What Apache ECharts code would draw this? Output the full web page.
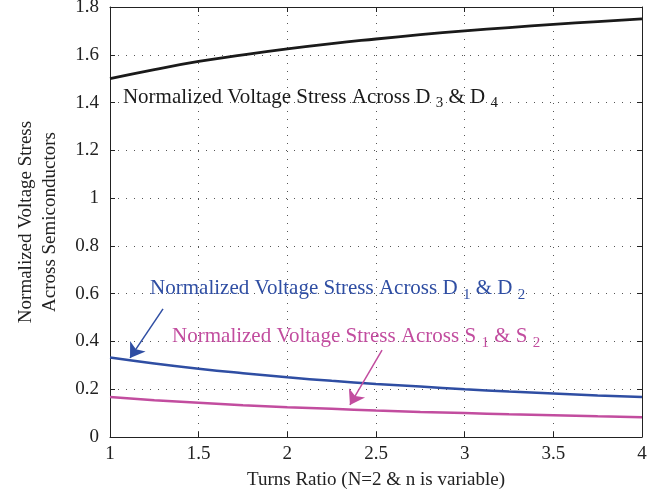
<!DOCTYPE html>
<html><head><meta charset="utf-8">
<script src="https://cdn.jsdelivr.net/npm/echarts@6/dist/echarts.min.js"></script>
<style>html,body{margin:0;padding:0;background:#fff}#c{width:664px;height:497px}</style>
</head><body><div id="c"></div>
<script>
var turns = [1, 1.25, 1.5, 1.75, 2, 2.25, 2.5, 2.75, 3, 3.25, 3.5, 3.75, 4];
var stressD34 = [1.5, 1.538, 1.572, 1.6, 1.625, 1.647, 1.666, 1.684, 1.7, 1.714, 1.727, 1.739, 1.75];
var stressD12 = [0.333, 0.308, 0.286, 0.267, 0.25, 0.235, 0.222, 0.211, 0.2, 0.19, 0.182, 0.174, 0.167];
var stressS12 = [0.167, 0.154, 0.143, 0.133, 0.125, 0.118, 0.111, 0.105, 0.1, 0.095, 0.091, 0.087, 0.083];
var xTicks = [1, 1.5, 2, 2.5, 3, 3.5, 4];
var yTicks = [0, 0.2, 0.4, 0.6, 0.8, 1, 1.2, 1.4, 1.6, 1.8];
var labelD34 = ['Normalized Voltage Stress Across D', '3', ' & D', '4'];
var labelD12 = ['Normalized Voltage Stress Across D', '1', ' & D', '2'];
var labelS12 = ['Normalized Voltage Stress Across S', '1', ' & S', '2'];
var xTitle = 'Turns Ratio (N=2 & n is variable)';
var yTitle = 'Normalized Voltage Stress\nAcross Semiconductors';

var FONT = 'Liberation Serif';
var C_BLACK = '#1a1a1a', C_BLUE = '#2f4ea3', C_PINK = '#c24d9f';

function pairs(xs, ys) { return xs.map(function (x, i) { return [x, ys[i]]; }); }

var gridLine = { show: true, lineStyle: { color: '#555', width: 1, type: [1, 7] } };
function baseAxis(extra) {
  return Object.assign({
    type: 'value',
    axisLine: { show: true, onZero: false, lineStyle: { color: '#222', width: 1 } },
    axisTick: { show: true, inside: true, length: 5, lineStyle: { color: '#222' } },
    splitLine: { show: false },
    axisLabel: { show: false },
    nameMoveOverlap: false
  }, extra);
}

var chart = echarts.init(document.getElementById('c'), null, { renderer: 'canvas' });
var opt = {
  animation: false,
  textStyle: { fontFamily: FONT },
  grid: { left: 110, right: 22, top: 7, bottom: 60, containLabel: false, outerBoundsMode: 'none' },
  xAxis: [
    baseAxis({ min: xTicks[0], max: xTicks[xTicks.length - 1], interval: 0.5, position: 'bottom',
      splitLine: gridLine,
      axisLabel: { show: true, fontFamily: FONT, fontSize: 19, color: '#222', margin: 8 },
      name: xTitle, nameLocation: 'middle', nameGap: 34,
      nameTextStyle: { fontFamily: FONT, fontSize: 19, color: '#222' } }),
    baseAxis({ min: xTicks[0], max: xTicks[xTicks.length - 1], interval: 0.5, position: 'top' })
  ],
  yAxis: [
    baseAxis({ min: yTicks[0], max: yTicks[yTicks.length - 1], interval: 0.2, position: 'left',
      splitLine: gridLine,
      axisLabel: { show: true, fontFamily: FONT, fontSize: 19, color: '#222', margin: 11 },
      name: yTitle, nameLocation: 'middle', nameGap: 48, nameRotate: 90,
      nameTextStyle: { fontFamily: FONT, fontSize: 19, color: '#222', lineHeight: 24 } }),
    baseAxis({ min: yTicks[0], max: yTicks[yTicks.length - 1], interval: 0.2, position: 'right' })
  ],
  series: [
    { type: 'line', data: pairs(turns, stressD34), smooth: true, showSymbol: false,
      lineStyle: { color: C_BLACK, width: 2.8 }, itemStyle: { color: C_BLACK } },
    { type: 'line', data: pairs(turns, stressD12), smooth: true, showSymbol: false,
      lineStyle: { color: C_BLUE, width: 2.5 }, itemStyle: { color: C_BLUE },
      markLine: { silent: true, symbol: ['none', 'arrow'], symbolSize: 14, label: { show: false },
        lineStyle: { color: C_BLUE, width: 1.5, type: 'solid' },
        data: [[{ coord: [1.299, 0.536] }, { coord: [1.113, 0.331] }]] } },
    { type: 'line', data: pairs(turns, stressS12), smooth: true, showSymbol: false,
      lineStyle: { color: C_PINK, width: 2.5 }, itemStyle: { color: C_PINK },
      markLine: { silent: true, symbol: ['none', 'arrow'], symbolSize: 14, label: { show: false },
        lineStyle: { color: C_PINK, width: 1.5, type: 'solid' },
        data: [[{ coord: [2.534, 0.364] }, { coord: [2.353, 0.134] }]] } }
  ]
};
chart.setOption(opt);

function richLabel(parts, color, coord) {
  var p = chart.convertToPixel({ gridIndex: 0 }, coord);
  return {
    type: 'text', x: p[0], y: p[1], z: 100,
    style: {
      text: '{a|' + parts[0] + ' }{s|' + parts[1] + '}{a|' + parts[2] + ' }{s|' + parts[3] + '}',
      verticalAlign: 'middle', align: 'left',
      rich: {
        a: { fontFamily: FONT, fontSize: 21, fill: color, color: color, lineHeight: 24, verticalAlign: 'top' },
        s: { fontFamily: FONT, fontSize: 15, fill: color, color: color, lineHeight: 12, verticalAlign: 'bottom' }
      }
    }
  };
}
chart.setOption({ graphic: [
  richLabel(labelD34, C_BLACK, [1.073, 1.415]),
  richLabel(labelD12, C_BLUE, [1.226, 0.615]),
  richLabel(labelS12, C_PINK, [1.35, 0.414])
] });
</script></body></html>
